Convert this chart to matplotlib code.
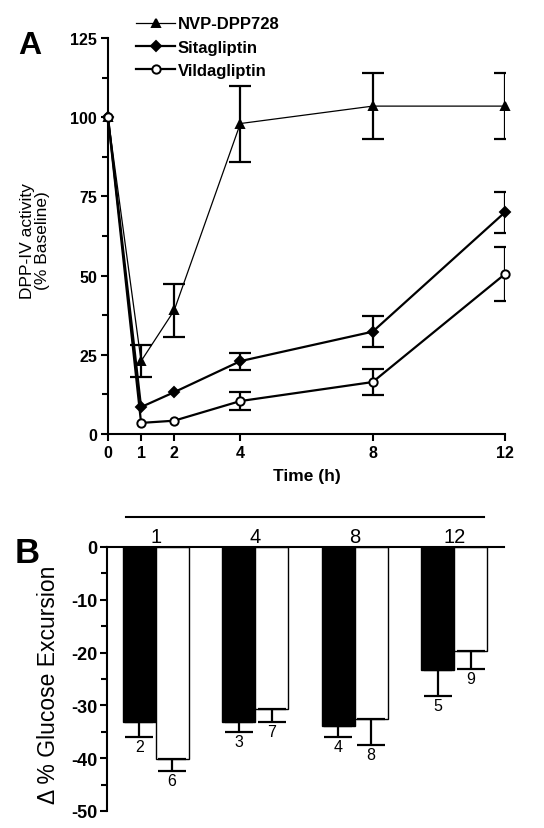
import matplotlib
matplotlib.use('Agg')
import matplotlib.pyplot as plt
import matplotlib.transforms as mtransforms
from matplotlib.lines import Line2D
from matplotlib.ticker import MultipleLocator
import numpy as np

plt.rcParams['font.family'] = ['Liberation Sans', 'DejaVu Sans']
plt.rcParams['axes.unicode_minus'] = False

# Panel A: DPP-IV activity over time
hours = [0, 1, 2, 4, 8, 12]
nvp_mean = [100, 23, 39, 98, 103.5, 103.5]
nvp_err = [0, 5, 8.5, 12, 10.5, 10.5]
sita_mean = [100, 8.5, 13.2, 23, 32.3, 70]
sita_err = [0, 0, 0, 2.7, 4.8, 6.5]
vilda_mean = [100, 3.5, 4.2, 10.4, 16.4, 50.5]
vilda_err = [0, 0, 0, 2.8, 4.2, 8.5]

# Panel B: glucose excursion
groups = ['1', '4', '8', '12']
black_mean = [-33.2, -33.2, -33.9, -23.3]
black_err = [2.8, 1.9, 2.1, 4.9]
black_labels = ['2', '3', '4', '5']
white_mean = [-40.2, -30.7, -32.6, -19.7]
white_err = [2.3, 2.5, 4.9, 3.4]
white_labels = ['6', '7', '8', '9']

fig = plt.figure(figsize=(5.44, 8.29), dpi=100)

# ---------- A ----------
axA = fig.add_axes([108/544, 1-435/829, 397/544, 396/829])

series = [
    ('NVP-DPP728', nvp_mean, nvp_err, '^', 'black', 6, 0.9),
    ('Sitagliptin', sita_mean, sita_err, 'D', 'black', 5, 1.6),
    ('Vildagliptin', vilda_mean, vilda_err, 'o', 'white', 6, 1.6),
]
handles = []
for name, m, e, mk, fc, ms, lw in series:
    axA.plot(hours, m, color='black', lw=lw, marker=mk, ms=ms, mfc=fc,
             mec='black', mew=1.4, clip_on=False, zorder=3)
    x = np.array(hours)
    err = np.array(e, dtype=float)
    sel = err > 0
    axA.errorbar(x[sel], np.array(m)[sel], yerr=err[sel], fmt='none',
                 ecolor='black', elinewidth=1.6, capsize=8, capthick=1.6,
                 zorder=2)
    handles.append(Line2D([], [], color='black', lw=lw, marker=mk, ms=ms,
                          mfc=fc, mec='black', mew=1.4, label=name))

axA.set_xlim(0, 12)
axA.set_ylim(0, 125)
axA.set_xticks(hours)
axA.yaxis.set_major_locator(MultipleLocator(25))
axA.yaxis.set_minor_locator(MultipleLocator(12.5))
for s in ['top', 'right']:
    axA.spines[s].set_visible(False)
for s in ['left', 'bottom']:
    axA.spines[s].set_linewidth(1.5)
axA.tick_params(which='major', length=5, width=1.5, labelsize=11.5, pad=3)
axA.tick_params(which='minor', length=4, width=1.5)
for lab in axA.get_xticklabels() + axA.get_yticklabels():
    lab.set_fontweight('bold')
axA.set_xlabel('Time (h)', fontsize=12.5, fontweight='bold', labelpad=6)
axA.set_ylabel('DPP-IV activity\n(% Baseline)', fontsize=12.5,
               linespacing=1.0)
axA.yaxis.set_label_coords(-0.145, 0.49)

fig.legend(handles=handles, loc='upper left',
           bbox_to_anchor=(128/544, 1-9/829), frameon=False,
           prop={'weight': 'bold', 'size': 12}, handlelength=2.3,
           handletextpad=0.2, labelspacing=0.5, borderpad=0)

fig.text(18/544, 1-54/829, 'A', fontsize=23, fontweight='bold')

# ---------- B ----------
axB = fig.add_axes([107/544, 1-812/829, 397/544, 264/829])
x = np.arange(len(groups))
w = 0.33
axB.bar(x - w/2, black_mean, w, color='black', edgecolor='black', lw=1)
axB.bar(x + w/2, white_mean, w, color='white', edgecolor='black', lw=1)
axB.errorbar(x - w/2, black_mean, yerr=[black_err, [0]*4], fmt='none',
             ecolor='black', elinewidth=1.6, capsize=10, capthick=1.6)
axB.errorbar(x + w/2, white_mean, yerr=[white_err, [0]*4], fmt='none',
             ecolor='black', elinewidth=1.6, capsize=10, capthick=1.6)
for xi, m, e, t in zip(x - w/2, black_mean, black_err, black_labels):
    axB.annotate(t, (xi, m - e), xytext=(0, -1.5), textcoords='offset points',
                 ha='center', va='top', fontsize=11.5)
for xi, m, e, t in zip(x + w/2, white_mean, white_err, white_labels):
    axB.annotate(t, (xi, m - e), xytext=(0, -1.5), textcoords='offset points',
                 ha='center', va='top', fontsize=11.5)

axB.set_xlim(-0.49, 3.5)
axB.set_ylim(-50, 0)
axB.set_xticks(x)
axB.set_xticklabels(groups, fontsize=14.5)
axB.tick_params(axis='x', top=True, bottom=False, labeltop=True,
                labelbottom=False, length=0, pad=1)
axB.yaxis.set_major_locator(MultipleLocator(10))
axB.yaxis.set_minor_locator(MultipleLocator(5))
axB.tick_params(axis='y', which='major', length=5, width=1.5, labelsize=13,
                pad=2)
axB.tick_params(axis='y', which='minor', length=4, width=1.5)
for lab in axB.get_yticklabels():
    lab.set_fontweight('bold')
for s in ['bottom', 'right']:
    axB.spines[s].set_visible(False)
for s in ['left', 'top']:
    axB.spines[s].set_linewidth(1.5)
axB.set_ylabel('Δ % Glucose Excursion', fontsize=16.5)
axB.yaxis.set_label_coords(-0.118, 0.48)

trans = mtransforms.blended_transform_factory(axB.transData, axB.transAxes)
axB.plot([-0.3, 3.3], [1.114, 1.114], color='black', lw=1.5,
         transform=trans, clip_on=False)

fig.text(15/544, 1-563/829, 'B', fontsize=25, fontweight='bold')

fig.savefig('out.png', dpi=100)
